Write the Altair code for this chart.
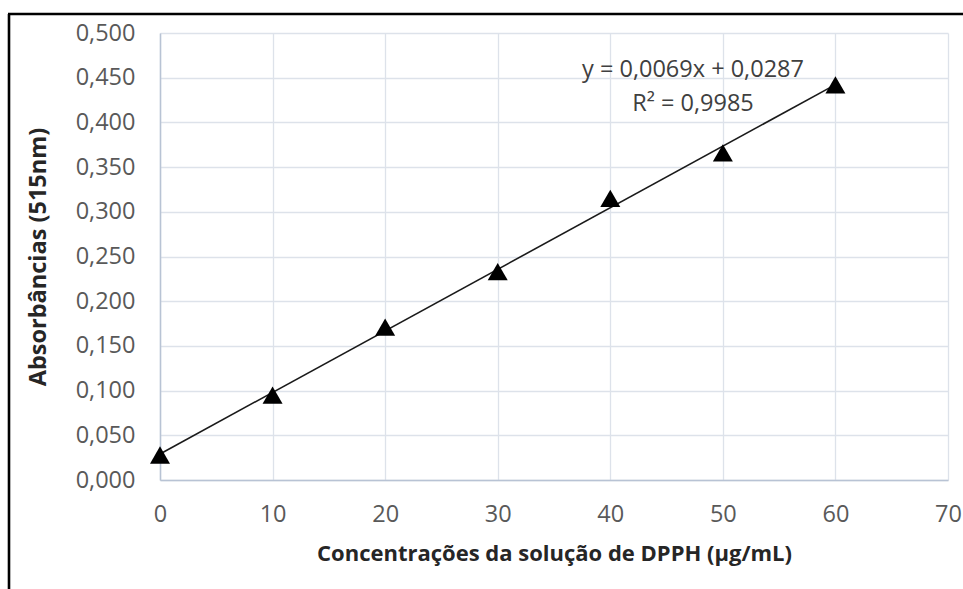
import altair as alt
import pandas as pd

conc = [0, 10, 20, 30, 40, 50, 60]
absorb = [0.028, 0.095, 0.171, 0.233, 0.315, 0.366, 0.442]
eq_lines = ["y = 0,0069x + 0,0287", "R² = 0,9985"]
x_title = "Concentrações da solução de DPPH (µg/mL)"
y_title = "Absorbâncias (515nm)"

df = pd.DataFrame({"x": conc, "y": absorb})

FONT = "Open Sans"
W, H = 788, 447

x_enc = alt.X("x:Q", scale=alt.Scale(domain=[0, 70], nice=False),
              axis=alt.Axis(values=list(range(0, 71, 10)), title=x_title,
                            titlePadding=18, labelFlush=False, titleFontSize=22,
                            labelPadding=22))
y_enc = alt.Y("y:Q", scale=alt.Scale(domain=[0, 0.5], nice=False),
              axis=alt.Axis(values=[i * 0.05 for i in range(11)],
                            labelExpr="replace(format(datum.value, '.3f'), '.', ',')",
                            title=y_title, titlePadding=25, titleFontSize=23.5,
                            labelFlush=False, labelPadding=25))

base = alt.Chart(df)

trend = base.transform_regression("x", "y", extent=[0, 60]).mark_line(
    color="#1a1a1a", strokeWidth=1.6
).encode(x=x_enc, y=y_enc)

pts = base.mark_point(shape="triangle-up", filled=True, size=400,
                      color="black", opacity=1).encode(x="x:Q", y="y:Q")

ann1 = alt.Chart(pd.DataFrame({"t": [eq_lines[0]]})).mark_text(
    font=FONT, fontSize=23.5, color="#404040", align="center", baseline="middle"
).encode(text="t:N", x=alt.value(533), y=alt.value(37))
ann2 = alt.Chart(pd.DataFrame({"t": [eq_lines[1]]})).mark_text(
    font=FONT, fontSize=23.5, color="#404040", align="center", baseline="middle"
).encode(text="t:N", x=alt.value(533), y=alt.value(71))

frame_df = pd.DataFrame({"d": [0]})
left_frame = alt.Chart(frame_df).mark_rule(color="black", strokeWidth=2.6).encode(
    x=alt.value(-151), y=alt.value(-19), y2=alt.value(H + 120))
top_frame = alt.Chart(frame_df).mark_rule(color="black", strokeWidth=2.6).encode(
    y=alt.value(-19), x=alt.value(-152), x2=alt.value(W + 40))

chart = alt.layer(trend, pts, ann1, ann2, left_frame, top_frame).properties(
    width=W, height=H,
    autosize=alt.AutoSizeParams(type="none"),
    padding={"left": 160, "top": 33, "right": 15, "bottom": 109},
    background="white",
).configure_view(stroke=None).configure_axis(
    labelFont=FONT, labelFontSize=23.5, labelColor="#595959",
    titleFont=FONT, titleFontWeight="bold", titleColor="#262626",
    gridColor="#dde2ea", gridWidth=1.3, domainColor="#b8c3d4", domainWidth=1.5,
    ticks=False,
)

chart.save("out.html", embed_options={"renderer": "svg", "actions": False})
